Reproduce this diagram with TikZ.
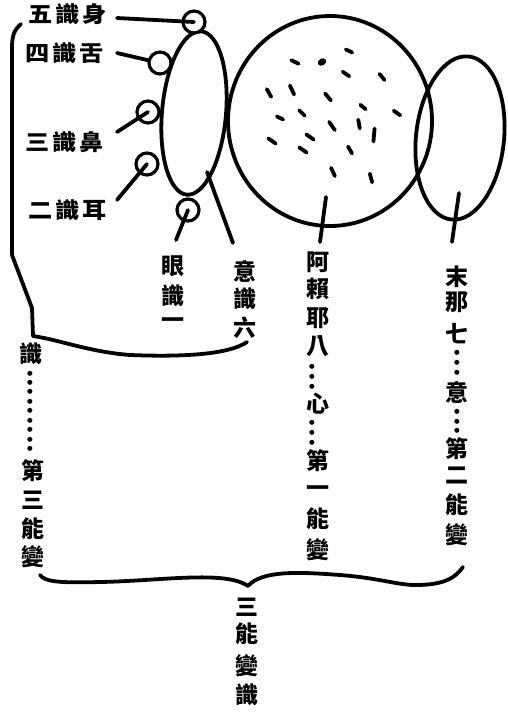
\documentclass[tikz,border=0pt]{standalone}
\usepackage{fontspec}
\newfontfamily\cjk{Noto Sans CJK TC}
\newfontfamily\cjkw[FakeStretch=1.1]{Noto Sans CJK TC}
\newfontfamily\dvs{DejaVu Sans}
\begin{document}
\begin{tikzpicture}[x=1pt,y=-1pt,
  stroke/.style={line width=3.8pt,line cap=round,line join=round},
  sense/.style={circle,draw,line width=3.2pt,fill=white,minimum size=22pt,inner sep=0pt},
  vch/.style={font=\cjk\bfseries\fontsize{23}{23}\selectfont,inner sep=0pt},
  hlab/.style={font=\cjkw\bfseries\fontsize{22}{22}\selectfont,inner sep=0pt,anchor=east},
  dotc/.style={font=\dvs\fontsize{6.5}{6.5}\selectfont,inner sep=0pt},
  speck/.style={line width=3.8pt,line cap=round}]
\fill[white] (0,0) rectangle (507,712);
\useasboundingbox (0,0) rectangle (507,712);

% --- main shapes ---
\draw[stroke] (330,121) ellipse [x radius=102,y radius=105];
\draw[stroke,rotate around={-6:(460,138)}] (460,138) ellipse [x radius=44,y radius=82];
\draw[stroke,rotate around={-5:(194,113)}] (194,113) ellipse [x radius=32,y radius=82];

% --- seeds inside the big circle ---
\foreach \px/\py/\a/\l in {295/62/25/8, 349/51/25/7, 346/74/35/8, 382/77/50/8,
  269/93/60/9, 292/90/65/10, 328/97/50/9, 363/107/40/7, 397/113/35/8,
  280/118/25/7, 302/113/45/8, 332/126/55/10, 359/124/80/9, 374/135/95/13,
  272/141/35/9, 310/137/35/9, 303/150/35/9, 350/150/60/8, 333/172/65/9, 371/178/75/9}
  \draw[speck] (\px,\py) ++(\a:-\l/2) -- ++(\a:\l);
\fill[rotate around={30:(322,62)}] (322,62) ellipse [x radius=4.5,y radius=3.5];

% --- stems of the big shapes ---
\coordinate (a8) at (326,197); \coordinate (a8e) at (320,242);
\coordinate (m7) at (459,193); \coordinate (m7e) at (452,242);
\coordinate (m6) at (207,172); \coordinate (m6e) at (233,243);
\draw[stroke] (a8) -- (a8e);
\draw[stroke] (m7) -- (m7e);
\draw[stroke] (m6) -- (m6e);

% --- five sense consciousnesses ---
\node[hlab] (l5) at (107,14) {五\hspace{3pt}識\hspace{3pt}身};
\node[hlab] (l4) at (104,53) {四\hspace{3pt}識\hspace{3pt}舌};
\node[hlab] (l3) at (104,142) {三\hspace{3pt}識\hspace{3pt}鼻};
\node[hlab] (l2) at (107,210) {二\hspace{3pt}識\hspace{3pt}耳};

\node[sense] (c4) at (160,63) {};
\draw[stroke] (l4.east) ++(13,0) -- (c4);
\node[sense] (c5) at (194,22) {};
\node[sense] (c3) at (148,112) {};
\node[sense] (c2) at (147,164) {};
\node[sense] (c1) at (188,210) {};
\coordinate (e1) at (176,240);
\draw[stroke] (l5.east) ++(10,4) -- (c5.center);
\draw[stroke] (l3.east) ++(13,-10) -- (c3.center);
\draw[stroke] (l2.east) ++(10,-10) -- (c2.center);
\draw[stroke] (c1.center) -- (e1);

% --- vertical labels ---
\foreach \c/\y [count=\i] in {眼/266,識/296,一/323}
  \node[vch,name=eye\i] at (173,\y) {\c};
\foreach \c/\y [count=\i] in {意/271,識/299,六/328}
  \node[vch,name=mind\i] at (245,\y) {\c};
\foreach \c/\y [count=\i] in {阿/262,賴/289,耶/318,八/346,心/404,第/461,一/491,能/519,變/550}
  \node[vch,name=alaya\i] at (318,\y) {\c};
\foreach \y [count=\i] in {367,377,387,423,433,443}
  \node[dotc,name=alayad\i] at (312,\y) {●};
\foreach \c/\y [count=\i] in {末/277,那/302,七/334,意/392,第/449,二/475,能/505,變/535}
  \node[vch,name=manas\i] at (457,\y) {\c};
\foreach \y [count=\i] in {353,363,373,412,422,431}
  \node[dotc,name=manasd\i] at (457,\y) {●};
\node[vch] (six1) at (31,354) {識};
\foreach \y [count=\i] in {374,383,392,402,411,421,430,440,449}
  \node[dotc,name=sixd\i] at (30,\y) {●};
\foreach \c/\y [count=\i] in {第/471,三/500,能/529,變/557}
  \node[vch,name=six\i] at (33,\y) {\c};
\foreach \c/\y [count=\i] in {三/607,能/634,變/666,識/695}
  \node[vch,name=tri\i] at (247,\y) {\c};

% --- left bracket ---
\draw[stroke] (21,24) .. controls (14,30) and (12,36) .. (12,48) -- (12,255)
  -- (32,308) -- (33,336) .. controls (60,340) and (90,352) .. (130,355)
  .. controls (180,357) and (228,355) .. (247,342);

% --- bottom brace ---
\draw[stroke] (40,575) .. controls (45,582) and (60,583) .. (100,582)
  .. controls (160,581) and (225,570) .. (248,586)
  .. controls (262,570) and (300,572) .. (340,575)
  .. controls (380,578) and (400,586) .. (420,585)
  .. controls (445,584) and (455,578) .. (463,567);
\end{tikzpicture}
\end{document}
